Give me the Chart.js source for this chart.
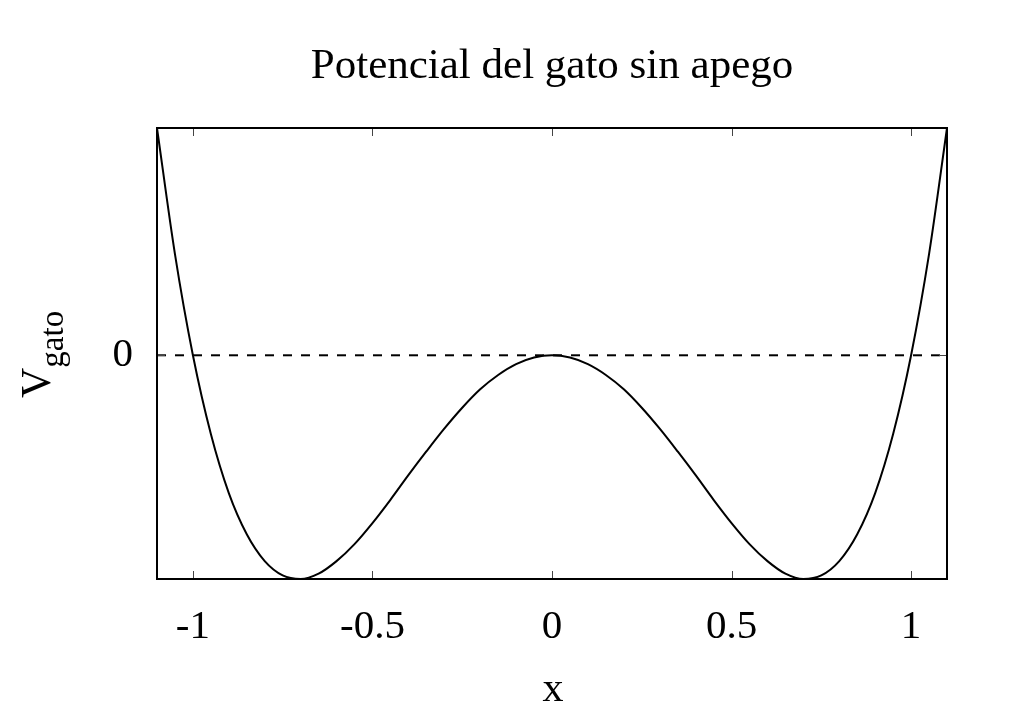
<!DOCTYPE html>
<html lang="es">
<head>
  <meta charset="UTF-8">
  <title>Potencial del gato sin apego</title>
  <script src="https://cdn.jsdelivr.net/npm/chart.js"></script>
  <style>
    body { margin: 0; background: #fff; }
    #wrap { width: 1024px; height: 717px; }
  </style>
</head>
<body>
  <div id="wrap"><canvas id="chart" width="1024" height="717"></canvas></div>
  <script>
    // Valores
    const xVals = [-1.1, -1.05, -1.0, -0.95, -0.9, -0.85, -0.8, -0.75, -0.7, -0.65, -0.6, -0.55,
                   -0.5, -0.45, -0.4, -0.35, -0.3, -0.25, -0.2, -0.15, -0.1, -0.05, 0,
                   0.05, 0.1, 0.15, 0.2, 0.25, 0.3, 0.35, 0.4, 0.45, 0.5, 0.55,
                   0.6, 0.65, 0.7, 0.75, 0.8, 0.85, 0.9, 0.95, 1.0, 1.05, 1.1];
    const vGato = [0.254, 0.113, 0, -0.088, -0.154, -0.2, -0.23, -0.246, -0.25, -0.244, -0.23, -0.211,
                   -0.1875, -0.1615, -0.134, -0.1075, -0.082, -0.0586, -0.038, -0.022, -0.0099, -0.0025, 0,
                   -0.0025, -0.0099, -0.022, -0.038, -0.0586, -0.082, -0.1075, -0.134, -0.1615, -0.1875, -0.211,
                   -0.23, -0.244, -0.25, -0.246, -0.23, -0.2, -0.154, -0.088, 0, 0.113, 0.254];
    const zeroLine = [0, 0];
    const xTicks = [-1, -0.5, 0, 0.5, 1];
    const yTicks = [0];

    const serif = '"Liberation Serif", "DejaVu Serif", serif';

    // Marco, marcas hacia dentro y textos
    const framePlugin = {
      id: 'frame',
      afterDraw(chart) {
        const ctx = chart.ctx;
        const a = chart.chartArea;
        const sx = chart.scales.x, sy = chart.scales.y;
        ctx.save();
        ctx.strokeStyle = '#444';
        ctx.lineWidth = 1;
        xTicks.forEach(t => {
          const px = Math.round(sx.getPixelForValue(t)) + 0.5;
          ctx.beginPath();
          ctx.moveTo(px, a.bottom); ctx.lineTo(px, a.bottom - 8);
          ctx.moveTo(px, a.top); ctx.lineTo(px, a.top + 8);
          ctx.stroke();
        });
        yTicks.forEach(t => {
          const py = Math.round(sy.getPixelForValue(t)) + 0.5;
          ctx.beginPath();
          ctx.moveTo(a.left, py); ctx.lineTo(a.left + 8, py);
          ctx.moveTo(a.right, py); ctx.lineTo(a.right - 8, py);
          ctx.stroke();
        });
        ctx.strokeStyle = '#000';
        ctx.lineWidth = 2;
        ctx.strokeRect(a.left, a.top, a.right - a.left, a.bottom - a.top);

        ctx.fillStyle = '#000';
        ctx.textAlign = 'center';
        ctx.textBaseline = 'alphabetic';
        ctx.font = '43px ' + serif;
        ctx.fillText('Potencial del gato sin apego', 552, 78);
        ctx.font = '42px ' + serif;
        ctx.fillText('x', 553, 701);

        // V con subíndice "gato"
        ctx.translate(50, 398);
        ctx.rotate(-Math.PI / 2);
        ctx.textAlign = 'left';
        ctx.font = '42px ' + serif;
        ctx.fillText('V', 0, 0);
        const w = ctx.measureText('V').width;
        ctx.font = '33px ' + serif;
        ctx.fillText('gato', w, 13);
        ctx.restore();
      }
    };

    new Chart(document.getElementById('chart'), {
      type: 'line',
      data: {
        datasets: [{
          data: xVals.map((x, i) => ({ x: x, y: vGato[i] })),
          borderColor: '#000',
          borderWidth: 2,
          pointRadius: 0,
          cubicInterpolationMode: 'monotone',
          fill: false
        }, {
          data: [{ x: -1.1, y: zeroLine[0] }, { x: 1.1, y: zeroLine[1] }],
          borderColor: '#000',
          borderWidth: 2,
          borderDash: [9, 9],
          pointRadius: 0,
          fill: false
        }]
      },
      options: {
        responsive: false,
        animation: false,
        layout: { padding: { left: 0, right: 77, top: 128, bottom: 0 } },
        plugins: { legend: { display: false }, tooltip: { enabled: false }, title: { display: false } },
        scales: {
          x: {
            type: 'linear',
            min: -1.1,
            max: 1.1,
            afterBuildTicks: s => { s.ticks = xTicks.map(v => ({ value: v })); },
            afterFit: s => { s.height = 138; },
            grid: { display: false, drawTicks: false },
            border: { display: false },
            ticks: { color: '#000', padding: 24, maxRotation: 0, callback: v => String(v),
                     font: { family: serif, size: 41 } }
          },
          y: {
            type: 'linear',
            min: -0.25,
            max: 0.254,
            afterBuildTicks: s => { s.ticks = yTicks.map(v => ({ value: v })); },
            afterFit: s => { s.width = 157; },
            grid: { display: false, drawTicks: false },
            border: { display: false },
            ticks: { color: '#000', padding: 24, callback: v => String(v),
                     font: { family: serif, size: 41 } }
          }
        }
      },
      plugins: [framePlugin]
    });
  </script>
</body>
</html>
